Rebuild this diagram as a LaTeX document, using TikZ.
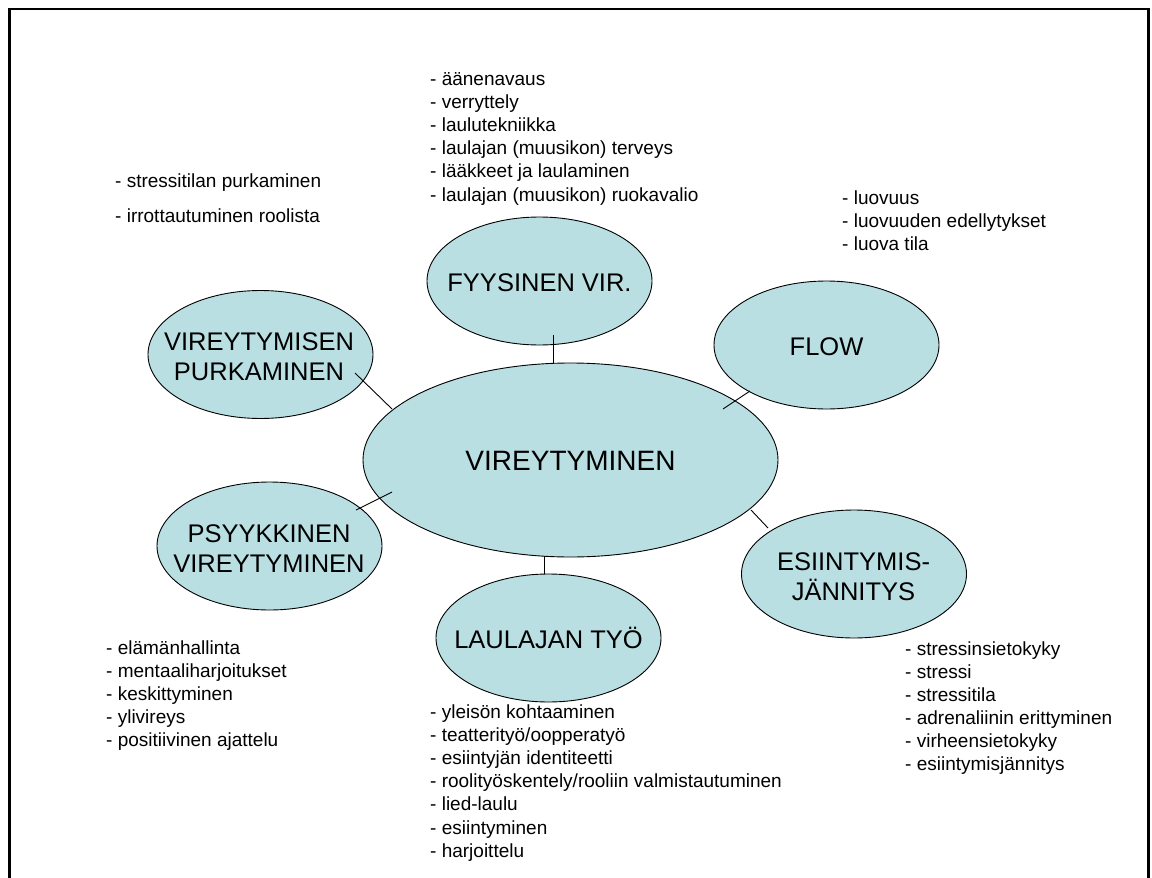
\documentclass[tikz,border=0pt]{standalone}
\usepackage{fontspec}
\setmainfont{Liberation Sans}
\usetikzlibrary{shapes.geometric}
\definecolor{bubfill}{RGB}{185,223,227}
\begin{document}
\begin{tikzpicture}[x=1pt,y=-1pt,
  bub/.style={ellipse, draw=black, line width=0.9pt, fill=bubfill, inner sep=0pt,
              minimum width=225pt, minimum height=128pt},
  lbl/.style={inner sep=0pt, anchor=base, font=\fontsize{25.5}{30}\selectfont},
  biglbl/.style={inner sep=0pt, anchor=base, font=\fontsize{28}{33}\selectfont},
  lst/.style={inner sep=0pt, anchor=base west, font=\fontsize{19}{23.2}\selectfont},
  conn/.style={draw=black, line width=0.9pt},
  frame/.style={draw=black, line width=2.8pt, line join=miter}]
\useasboundingbox (0,0) rectangle (1152,878);
\draw[frame] (9.5,878) -- (9.5,9) -- (1148.3,9) -- (1148.3,878);

% bubbles
\node[bub, minimum width=415pt, minimum height=194pt] (cen) at (570.5,460) {};
\node[bub] (fyy)  at (539.5,281) {};
\node[bub] (flow) at (826.5,345) {};
\node[bub] (purk) at (260.5,354.5) {};
\node[bub] (psy)  at (269.5,546) {};
\node[bub] (esi)  at (854,574) {};
\node[bub] (lau)  at (548.5,638) {};

% labels
\node[biglbl] (cenT) at (570.5,470) {VIREYTYMINEN};
\node[lbl] (fyyT) at (539.5,291) {FYYSINEN VIR.};
\node[lbl] (flowT) at (826.5,355.5) {FLOW};
\node[lbl] (lauT) at (548.5,648) {LAULAJAN TYÖ};
\node[lbl] (purkT) at (259,350) {\begin{tabular}[t]{@{}c@{}}VIREYTYMISEN\\PURKAMINEN\end{tabular}};
\node[lbl] (psyT) at (269,542) {\begin{tabular}[t]{@{}c@{}}PSYYKKINEN\\VIREYTYMINEN\end{tabular}};
\node[lbl] (esiT) at (853.5,570) {\begin{tabular}[t]{@{}c@{}}ESIINTYMIS-\\JÄNNITYS\end{tabular}};

% connector end points
\coordinate (fyyA) at (553,335);   \coordinate (fyyB) at (553,363);
\coordinate (purkA) at (355,373);  \coordinate (purkB) at (392,409);
\coordinate (flowA) at (750,391);  \coordinate (flowB) at (723,409);
\coordinate (psyA) at (356,510);   \coordinate (psyB) at (392,492);
\coordinate (esiA) at (751,510);   \coordinate (esiB) at (768,528);
\coordinate (lauA) at (544,556);   \coordinate (lauB) at (544,574);

\draw[conn] (fyyA) -- (fyyB);
\draw[conn] (purkA) -- (purkB);
\draw[conn] (flowA) -- (flowB);
\draw[conn] (psyA) -- (psyB);
\draw[conn] (esiA) -- (esiB);
\draw[conn] (lauA) -- (lauB);

% lists
\node[lst] (l1) at (430,85) {\begin{tabular}[t]{@{}l@{}}- äänenavaus\\- verryttely\\- laulutekniikka\\- laulajan (muusikon) terveys\\- lääkkeet ja laulaminen\\- laulajan (muusikon) ruokavalio\end{tabular}};
\node[lst, font=\fontsize{19}{35}\selectfont] (l2) at (115,187) {\begin{tabular}[t]{@{}l@{}}- stressitilan purkaminen\\- irrottautuminen roolista\end{tabular}};
\node[lst] (l3) at (842,204) {\begin{tabular}[t]{@{}l@{}}- luovuus\\- luovuuden edellytykset\\- luova tila\end{tabular}};
\node[lst] (l4) at (106,654) {\begin{tabular}[t]{@{}l@{}}- elämänhallinta\\- mentaaliharjoitukset\\- keskittyminen\\- ylivireys\\- positiivinen ajattelu\end{tabular}};
\node[lst] (l5) at (430,718) {\begin{tabular}[t]{@{}l@{}}- yleisön kohtaaminen\\- teatterityö/oopperatyö\\- esiintyjän identiteetti\\- roolityöskentely/rooliin valmistautuminen\\- lied-laulu\\- esiintyminen\\- harjoittelu\end{tabular}};
\node[lst, font=\fontsize{19}{23}\selectfont] (l6) at (905,655) {\begin{tabular}[t]{@{}l@{}}- stressinsietokyky\\- stressi\\- stressitila\\- adrenaliinin erittyminen\\- virheensietokyky\\- esiintymisjännitys\end{tabular}};
\end{tikzpicture}
\end{document}
